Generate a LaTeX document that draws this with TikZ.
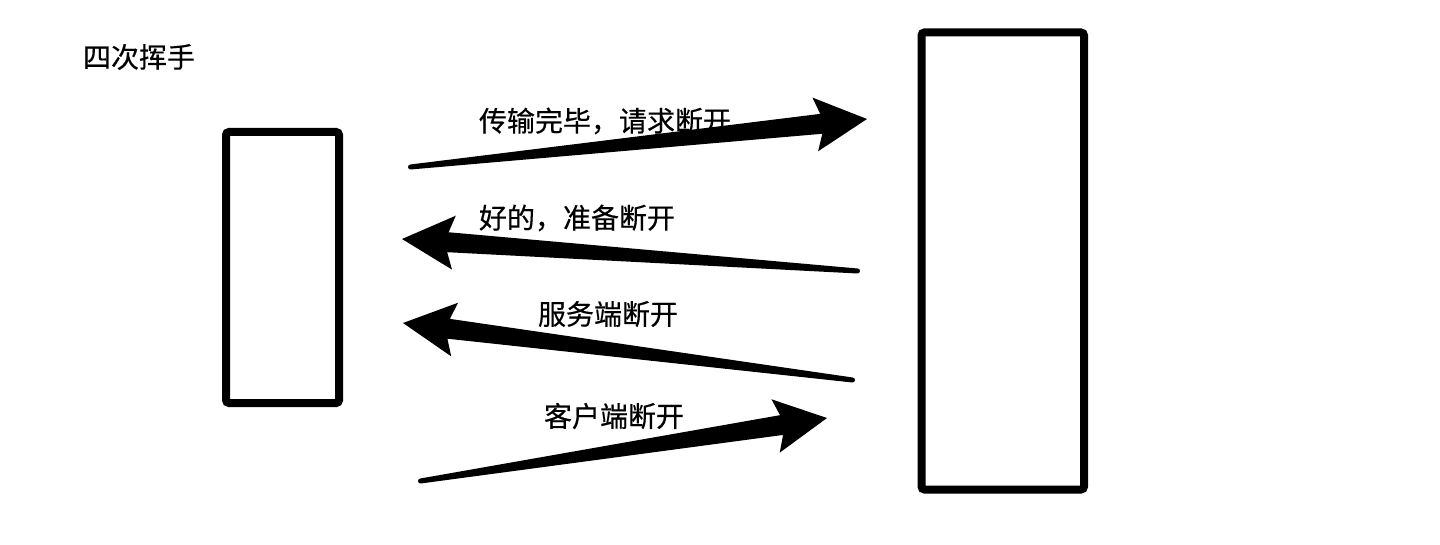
\documentclass[tikz,border=0pt]{standalone}
\usepackage{fontspec}
\newfontfamily\cjk[FakeBold=0.4]{Noto Sans CJK SC}
\usetikzlibrary{calc}
\tikzset{box/.style={draw,line width=8pt,rounded corners=3pt,inner sep=0pt},
	lbl/.style={font=\cjk\fontsize{28}{32}\selectfont,inner sep=0pt}}
% #1 tail, #2 tip
\newcommand{\taperarrow}[2]{%
	\fill let \p1=($(#2)-(#1)$), \n1={atan2(\y1,\x1)}, \n2={veclen(\x1,\y1)} in
	($(#1)+(\n1+90:2.5pt)$) -- ($(#1)+(\n1:{(\n2-46)*1pt})+(\n1+90:10pt)$)
	-- ($(#1)+(\n1:{(\n2-52)*1pt})+(\n1+90:27pt)$) -- (#2)
	-- ($(#1)+(\n1:{(\n2-52)*1pt})+(\n1-90:27pt)$)
	-- ($(#1)+(\n1:{(\n2-46)*1pt})+(\n1-90:10pt)$)
	-- ($(#1)+(\n1-90:2.5pt)$) arc[start angle=\n1-90,end angle=\n1-270,radius=2.5pt] -- cycle;}
\begin{document}
\begin{tikzpicture}[x=1pt,y=-1pt]
		\useasboundingbox (0,0) rectangle (1440,545);
		\node[lbl] (title) at (139,57) {四次挥手};
		\node[box,minimum width=113pt,minimum height=271pt] (client) at (282.5,267.5) {};
		\node[box,minimum width=162.5pt,minimum height=457pt] (server) at (1002.75,261) {};
		\coordinate (fin1a) at (410.5,167);  \coordinate (fin1b) at (867,119);
		\coordinate (ack1a) at (857.5,271);  \coordinate (ack1b) at (402,239);
		\coordinate (fin2a) at (852.5,380);  \coordinate (fin2b) at (403,323);
		\coordinate (ack2a) at (420.5,481);  \coordinate (ack2b) at (827,418);
		\taperarrow{fin1a}{fin1b}
		\taperarrow{ack1a}{ack1b}
		\taperarrow{fin2a}{fin2b}
		\taperarrow{ack2a}{ack2b}
		\node[lbl] (t1) at (605,121) {传输完毕，请求断开};
		\node[lbl] (t2) at (577,218) {好的，准备断开};
		\node[lbl] (t3) at (608,314) {服务端断开};
		\node[lbl] (t4) at (614,416) {客户端断开};
		\end{tikzpicture}
\end{document}
